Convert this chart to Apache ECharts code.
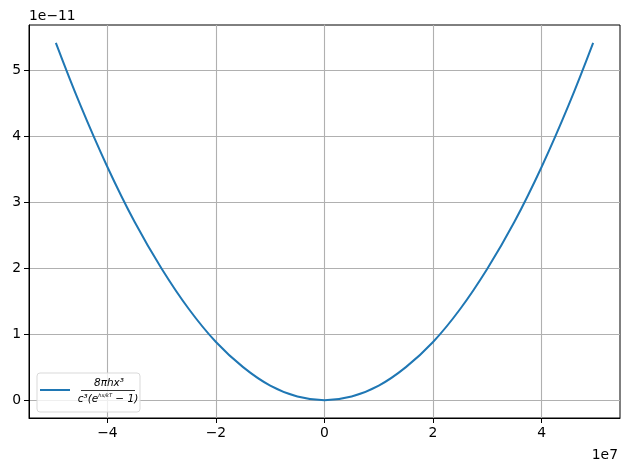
<!DOCTYPE html>
<html><head><meta charset="utf-8">
<script src="https://cdn.jsdelivr.net/npm/echarts@6/dist/echarts.min.js"></script>
<style>html,body{margin:0;padding:0;background:#fff}#c{width:630px;height:470px}</style>
</head><body><div id="c"></div>
<script>
// x in units of 1e7, y in units of 1e-11
const xValues = [-4.95,-4.5,-4,-3.5,-3,-2.5,-2,-1.5,-1,-0.5,0,0.5,1,1.5,2,2.5,3,3.5,4,4.5,4.95];
const yValues = [5.41,4.47,3.53,2.70,1.99,1.38,0.88,0.50,0.22,0.055,0,0.055,0.22,0.50,0.88,1.38,1.99,2.70,3.53,4.47,5.41];
const xTicks = [-4,-2,0,2,4];
const yTicks = [0,1,2,3,4,5];
const seriesName = '8πhx³ / c³(e^(hx/kT) − 1)';

const fmt = v => String(v).replace('-', '\u2212');
const chart = echarts.init(document.getElementById('c'), null, {renderer:'canvas'});
const font = 'DejaVu Sans';
chart.setOption({
  animation:false,
  grid:{left:29,right:10,top:25,bottom:52,show:true,borderColor:'#000',borderWidth:1,backgroundColor:'transparent'},
  xAxis:{type:'value',min:-5.445,max:5.445,
    axisLine:{show:true,onZero:false,lineStyle:{color:'#000',width:1}},
    axisTick:{show:true,length:5,inside:false,customValues:xTicks,lineStyle:{color:'#000'}},
    axisLabel:{customValues:xTicks,formatter:fmt,color:'#000',fontSize:13.9,fontFamily:font,margin:8},
    splitLine:{show:true,lineStyle:{color:'#b0b0b0',width:1.1}}},
  yAxis:{type:'value',min:-0.27,max:5.68,
    axisLine:{show:true,onZero:false,lineStyle:{color:'#000',width:1}},
    axisTick:{show:true,length:5,inside:false,customValues:yTicks,lineStyle:{color:'#000'}},
    axisLabel:{customValues:yTicks,formatter:fmt,color:'#000',fontSize:13.9,fontFamily:font,margin:8},
    splitLine:{show:true,lineStyle:{color:'#b0b0b0',width:1.1}}},
  series:[{name:seriesName,type:'line',data:xValues.map((x,i)=>[x,yValues[i]]),
    smooth:0.4,showSymbol:false,lineStyle:{color:'#1f77b4',width:2},itemStyle:{color:'#1f77b4'}}],
  graphic:[
    {type:'text',left:29,top:9,style:{text:'1e\u221211',fontSize:13.9,fontFamily:font,fill:'#000'}},
    {type:'text',right:12,top:448,style:{text:'1e7',fontSize:13.9,fontFamily:font,fill:'#000'}},
    {type:'rect',shape:{x:37,y:373,width:103,height:39,r:3},style:{fill:'rgba(255,255,255,0.8)',stroke:'#d9d9d9',lineWidth:1},z:100},
    {type:'line',shape:{x1:40,y1:390,x2:70,y2:390},style:{stroke:'#1f77b4',lineWidth:2},z:101},
    {type:'text',x:109,y:383,style:{text:'8πhx³',fontSize:10.5,fontFamily:font,fontStyle:'italic',fill:'#000',align:'center',verticalAlign:'middle'},z:101},
    {type:'line',shape:{x1:81,y1:390.5,x2:135,y2:390.5},style:{stroke:'#000',lineWidth:0.8},z:101},
    {type:'text',x:108,y:399,style:{text:'{b|c³(e}{s|hx/kT}{b| − 1)}',align:'center',verticalAlign:'middle',
      rich:{b:{fontSize:10.5,fontFamily:font,fontStyle:'italic',fill:'#000'},s:{fontSize:5,fontFamily:font,fontStyle:'italic',fill:'#000',verticalAlign:'top'}}},z:101}
  ]
});
</script></body></html>
